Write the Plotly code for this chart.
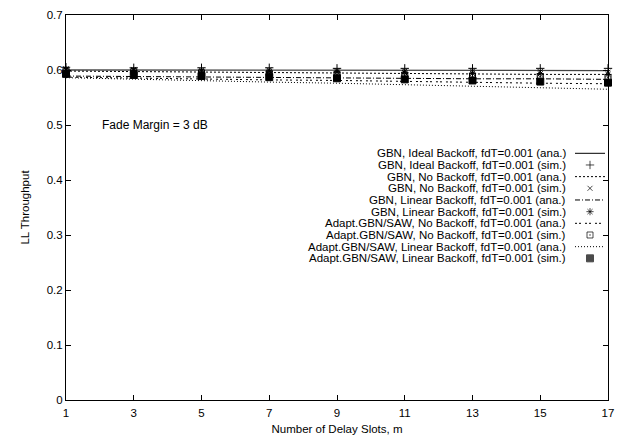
import plotly.graph_objects as go

m = [1, 3, 5, 7, 9, 11, 13, 15, 17]

# analytical curves
gbn_ideal_ana = [0.600, 0.600, 0.600, 0.5995, 0.5995, 0.599, 0.599, 0.599, 0.599]
gbn_nobo_ana = [0.598, 0.597, 0.596, 0.595, 0.594, 0.594, 0.593, 0.592, 0.592]
gbn_lin_ana = [0.589, 0.588, 0.587, 0.586, 0.585, 0.585, 0.584, 0.584, 0.583]
adp_nobo_ana = [0.587, 0.585, 0.584, 0.582, 0.581, 0.579, 0.578, 0.576, 0.575]
adp_lin_ana = [0.586, 0.583, 0.581, 0.578, 0.576, 0.573, 0.571, 0.568, 0.565]

# simulation points
gbn_ideal_sim = [0.605, 0.604, 0.604, 0.604, 0.603, 0.603, 0.603, 0.603, 0.603]
gbn_nobo_sim = [0.602, 0.601, 0.600, 0.600, 0.599, 0.598, 0.598, 0.597, 0.596]
gbn_lin_sim = [0.600, 0.599, 0.598, 0.597, 0.596, 0.595, 0.594, 0.593, 0.592]
adp_nobo_sim = [0.598, 0.597, 0.595, 0.594, 0.592, 0.591, 0.589, 0.588, 0.586]
adp_lin_sim = [0.593, 0.591, 0.589, 0.587, 0.585, 0.583, 0.581, 0.579, 0.577]

labels = [
    "GBN, Ideal Backoff, fdT=0.001 (ana.)",
    "GBN, Ideal Backoff, fdT=0.001 (sim.)",
    "GBN, No Backoff, fdT=0.001 (ana.)",
    "GBN, No Backoff, fdT=0.001 (sim.)",
    "GBN, Linear Backoff, fdT=0.001 (ana.)",
    "GBN, Linear Backoff, fdT=0.001 (sim.)",
    "Adapt.GBN/SAW, No Backoff, fdT=0.001 (ana.)",
    "Adapt.GBN/SAW, No Backoff, fdT=0.001 (sim.)",
    "Adapt.GBN/SAW, Linear Backoff, fdT=0.001 (ana.)",
    "Adapt.GBN/SAW, Linear Backoff, fdT=0.001 (sim.)",
]

FONT = "Liberation Sans, Arial, sans-serif"

ana_series = [
    (gbn_ideal_ana, "solid", "#444444", 1.3),
    (gbn_nobo_ana, "2px,2px", "black", 1),
    (gbn_lin_ana, "5px,2px,1px,2px", "black", 1),
    (adp_nobo_ana, "2px,2px,2px,4px", "black", 1),
    (adp_lin_ana, "1px,2px", "black", 1),
]
sim_series = [
    (gbn_ideal_sim, "cross-thin-open", 6),
    (gbn_nobo_sim, "x-thin-open", 5),
    (gbn_lin_sim, "asterisk-open", 6),
    (adp_nobo_sim, "square-open-dot", 6),
    (adp_lin_sim, "square", 7),
]

fig = go.Figure()
for ys, dash, col, w in ana_series:
    fig.add_trace(go.Scatter(x=m, y=ys, mode="lines",
                             line=dict(color=col, width=w, dash=dash),
                             showlegend=False))
for ys, sym, sz in sim_series:
    fig.add_trace(go.Scatter(x=m, y=ys, mode="markers", cliponaxis=False,
                             marker=dict(symbol=sym, size=sz, color="black",
                                         line=dict(color="black", width=1)),
                             showlegend=False))

# manual legend (text right-aligned, sample to the right)
L, R, T, B = 66, 21, 15, 35
W, H = 629 - L - R, 435 - T - B


def px2paper_x(px):
    return (px - L) / W


def px2paper_y(py):
    return (435 - B - py) / H


text_x = px2paper_x(568)
line_x0, line_x1 = px2paper_x(575), px2paper_x(605)
mark_x = px2paper_x(590)
ana_i = 0
sim_i = 0
leg_mx, leg_my, leg_sym, leg_sz = [], [], [], []
for i, lab in enumerate(labels):
    py = 153.3 + 11.67 * i
    yp = px2paper_y(py)
    fig.add_annotation(x=text_x, y=yp, xref="paper", yref="paper",
                       text=lab, showarrow=False, xanchor="right",
                       yanchor="middle", font=dict(family=FONT, size=11.5, color="black"))
    if i % 2 == 0:
        _, dash, col, w = ana_series[ana_i]
        ana_i += 1
        fig.add_shape(type="line", xref="paper", yref="paper",
                      x0=line_x0, x1=line_x1, y0=yp, y1=yp,
                      line=dict(color="black", width=1, dash=dash))
    else:
        _, sym, sz = sim_series[sim_i]
        sim_i += 1
        leg_mx.append(mark_x)
        leg_my.append(yp)
        leg_sym.append(sym)
        leg_sz.append(sz)

fig.add_trace(go.Scatter(x=leg_mx, y=leg_my, mode="markers", xaxis="x2", yaxis="y2",
                         marker=dict(symbol=leg_sym, size=leg_sz, color="black",
                                     line=dict(color="black", width=1)),
                         showlegend=False, hoverinfo="skip"))

fig.add_annotation(x=2.0, y=0.5, xref="x", yref="y", text="Fade Margin = 3 dB",
                   showarrow=False, xanchor="left", yanchor="middle",
                   font=dict(family=FONT, size=12, color="black"))

axis_common = dict(showline=True, linecolor="black", linewidth=1, mirror="ticks",
                   ticks="inside", ticklen=5, tickcolor="black", showgrid=False,
                   zeroline=False, automargin=False,
                   tickfont=dict(family=FONT, size=11.5, color="black"))

fig.update_layout(
    width=629, height=435,
    margin=dict(l=L, r=R, t=T, b=B),
    paper_bgcolor="white", plot_bgcolor="white",
    showlegend=False,
    font=dict(family=FONT, size=11.5, color="black"),
    xaxis=dict(range=[1, 17], tickvals=m, ticktext=[str(v) for v in m],
               ticklabelstandoff=2,
               title=dict(text="Number of Delay Slots, m", standoff=9,
                          font=dict(family=FONT, size=11.5)),
               **axis_common),
    yaxis=dict(range=[0, 0.7], dtick=0.1, tickformat=".1~f",
               title=dict(text="LL Throughput", standoff=14,
                          font=dict(family=FONT, size=11.5)),
               **axis_common),
    xaxis2=dict(overlaying="x", range=[0, 1], visible=False),
    yaxis2=dict(overlaying="y", range=[0, 1], visible=False),
)

fig.write_html("out.html")
